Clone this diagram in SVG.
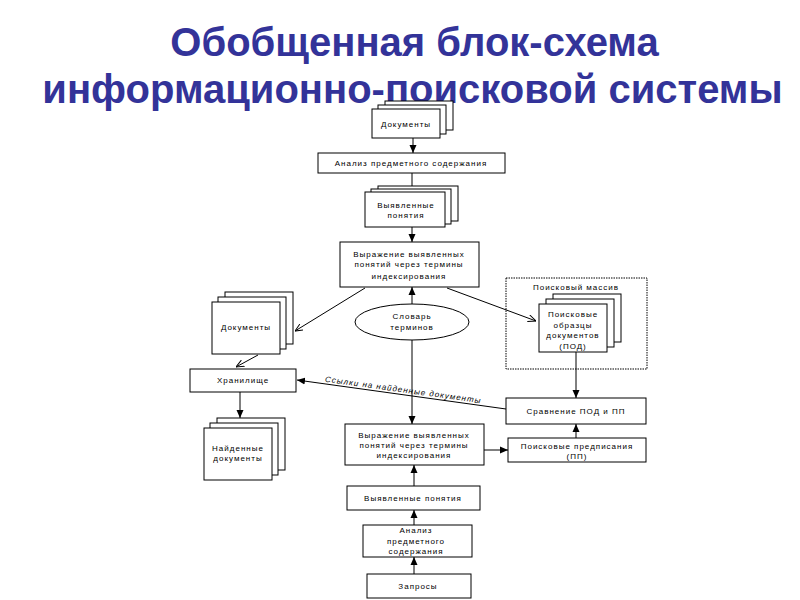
<svg xmlns="http://www.w3.org/2000/svg" width="800" height="600" viewBox="0 0 800 600">
<defs>
<style>
.t{font-family:"Liberation Sans",Arial,sans-serif;font-size:8px;letter-spacing:1px;fill:#000;text-anchor:middle}
.b{fill:#fff;stroke:#000;stroke-width:1}
.c{stroke:#000;stroke-width:1;fill:none}
.title{font-family:"Liberation Sans",Arial,sans-serif;font-size:40px;font-weight:bold;fill:#333399;text-anchor:middle}
</style>
<marker id="a" viewBox="0 0 8 8" refX="8" refY="4" markerWidth="8" markerHeight="8" markerUnits="userSpaceOnUse" orient="auto"><path d="M0,0.5 L8,4 L0,7.5 Z" fill="#000"/></marker>
<marker id="v" viewBox="0 0 8 8" refX="8" refY="4" markerWidth="8" markerHeight="8" markerUnits="userSpaceOnUse" orient="auto"><path d="M0,0.5 L8,4 L0,7.5" fill="none" stroke="#000" stroke-width="1"/></marker>
</defs>
<rect width="800" height="600" fill="#fff"/>
<text class="title" x="414.5" y="56">Обобщенная блок-схема</text>
<text class="title" x="412.5" y="103">информационно-поисковой системы</text>

<g id="connectors">
<line class="c" x1="413" y1="138" x2="413" y2="153" marker-end="url(#a)"/>
<line class="c" x1="412" y1="173" x2="412" y2="186"/>
<line class="c" x1="412" y1="227" x2="412" y2="242" marker-end="url(#a)"/>
<line class="c" x1="412" y1="304" x2="412" y2="287" marker-end="url(#a)"/>
<line class="c" x1="412" y1="340" x2="412" y2="424" marker-end="url(#a)"/>
<line class="c" x1="365" y1="288" x2="295" y2="331" marker-end="url(#v)"/>
<line class="c" x1="447" y1="288" x2="536" y2="321" marker-end="url(#v)"/>
<line class="c" x1="258" y1="355" x2="236" y2="367" marker-end="url(#v)"/>
<line class="c" x1="506" y1="409" x2="297" y2="380" marker-end="url(#a)"/>
<line class="c" x1="240" y1="392" x2="240" y2="418" marker-end="url(#a)"/>
<line class="c" x1="576" y1="352" x2="576" y2="398" marker-end="url(#a)"/>
<line class="c" x1="576" y1="438" x2="576" y2="424" marker-end="url(#a)"/>
<line class="c" x1="484" y1="450" x2="508" y2="450" marker-end="url(#a)"/>
<line class="c" x1="414" y1="486" x2="414" y2="465" marker-end="url(#a)"/>
<line class="c" x1="414" y1="525" x2="414" y2="510" marker-end="url(#a)"/>
<line class="c" x1="414" y1="574" x2="414" y2="557" marker-end="url(#a)"/>
<text class="t" font-style="italic" transform="translate(403,392.5) rotate(7.9)">Ссылки на найденные документы</text>
</g>

<g id="docs-top">
<rect class="b" x="385" y="101" width="68" height="29"/>
<rect class="b" x="378" y="105" width="68" height="29"/>
<rect class="b" x="372" y="109" width="68" height="29"/>
<text class="t" x="406" y="127">Документы</text>
</g>

<g id="analysis-top">
<rect class="b" x="318" y="153" width="187" height="20"/>
<text class="t" x="411" y="166">Анализ предметного содержания</text>
</g>

<g id="concepts-top">
<rect class="b" x="378" y="186" width="80" height="35"/>
<rect class="b" x="371" y="189" width="80" height="35"/>
<rect class="b" x="365" y="192" width="80" height="35"/>
<text class="t" x="406" y="208">Выявленные</text>
<text class="t" x="406" y="218">понятия</text>
</g>

<g id="expr-top">
<rect class="b" x="340" y="242" width="139" height="45"/>
<text class="t" x="409" y="256.5">Выражение выявленных</text>
<text class="t" x="409" y="267">понятий через термины</text>
<text class="t" x="409" y="278.5">индексирования</text>
</g>

<g id="dictionary">
<ellipse class="b" cx="412" cy="322" rx="57" ry="18"/>
<text class="t" x="412" y="319">Словарь</text>
<text class="t" x="412" y="330">терминов</text>
</g>

<g id="docs-left">
<rect class="b" x="225" y="292" width="68" height="52"/>
<rect class="b" x="218" y="297" width="68" height="52"/>
<rect class="b" x="212" y="302" width="68" height="52"/>
<text class="t" x="246" y="330">Документы</text>
</g>

<g id="storage">
<rect class="b" x="190" y="369" width="106" height="23"/>
<text class="t" x="243" y="383">Хранилище</text>
</g>

<g id="found-docs">
<rect class="b" x="217" y="418" width="68" height="52"/>
<rect class="b" x="210" y="423" width="68" height="52"/>
<rect class="b" x="204" y="428" width="68" height="52"/>
<text class="t" x="238" y="451">Найденные</text>
<text class="t" x="238" y="461">документы</text>
</g>

<g id="search-array">
<rect x="506" y="278" width="141" height="91" fill="none" stroke="#000" stroke-width="1" stroke-dasharray="1.5,1"/>
<text class="t" x="576" y="289.5">Поисковый массив</text>
<rect class="b" x="553" y="294" width="68" height="48"/>
<rect class="b" x="546" y="299" width="68" height="48"/>
<rect class="b" x="539" y="304" width="68" height="48"/>
<text class="t" x="573" y="317">Поисковые</text>
<text class="t" x="573" y="327.5">образцы</text>
<text class="t" x="573" y="338">документов</text>
<text class="t" x="573" y="348.5">(ПОД)</text>
</g>

<g id="compare">
<rect class="b" x="506" y="398" width="140" height="26"/>
<text class="t" x="576" y="414">Сравнение ПОД и ПП</text>
</g>

<g id="prescriptions">
<rect class="b" x="508" y="438" width="138" height="24"/>
<text class="t" x="577" y="449">Поисковые предписания</text>
<text class="t" x="577" y="459">(ПП)</text>
</g>

<g id="expr-bottom">
<rect class="b" x="345" y="424" width="139" height="41"/>
<text class="t" x="414" y="438">Выражение выявленных</text>
<text class="t" x="414" y="448">понятий через термины</text>
<text class="t" x="414" y="458">индексирования</text>
</g>

<g id="concepts-bottom">
<rect class="b" x="347" y="486" width="133" height="24"/>
<text class="t" x="413" y="501">Выявленные понятия</text>
</g>

<g id="analysis-bottom">
<rect class="b" x="363" y="525" width="109" height="32"/>
<text class="t" x="416" y="533">Анализ</text>
<text class="t" x="416" y="544">предметного</text>
<text class="t" x="416" y="554">содержания</text>
</g>

<g id="queries">
<rect class="b" x="367" y="574" width="104" height="24"/>
<text class="t" x="418" y="589">Запросы</text>
</g>
</svg>
